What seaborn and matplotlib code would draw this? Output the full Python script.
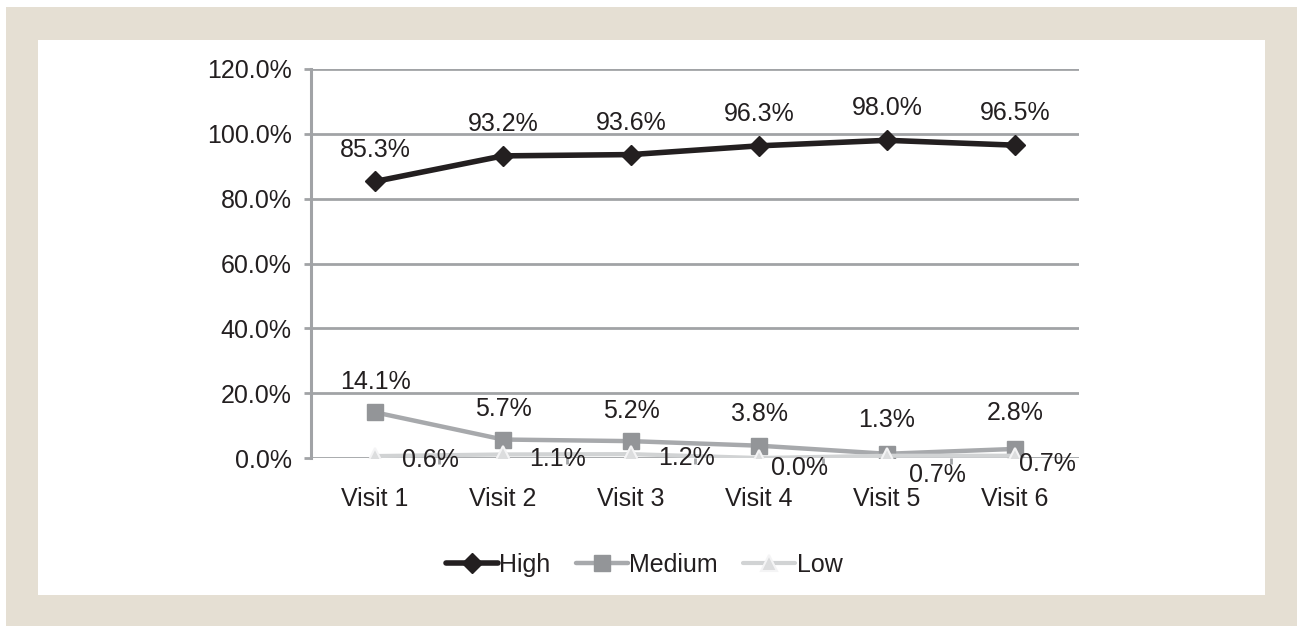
import matplotlib
matplotlib.use("Agg")
import matplotlib.pyplot as plt
from matplotlib.patches import Rectangle
from matplotlib.ticker import FixedLocator, PercentFormatter
import pandas as pd
import seaborn as sns

# Share of visits rated High / Medium / Low (percent)
visits = ["Visit 1", "Visit 2", "Visit 3", "Visit 4", "Visit 5", "Visit 6"]
high = [85.3, 93.2, 93.6, 96.3, 98.0, 96.5]
medium = [14.1, 5.7, 5.2, 3.8, 1.3, 2.8]
low = [0.6, 1.1, 1.2, 0.0, 0.7, 0.7]
series_names = ["High", "Medium", "Low"]
y_ticks = [0, 20, 40, 60, 80, 100, 120]

df = pd.concat(
    [pd.DataFrame({"visit": visits, "value": vals, "level": name})
     for name, vals in zip(series_names, [high, medium, low])],
    ignore_index=True,
)

sns.set_theme(style="white")
plt.rcParams["font.family"] = ["Liberation Sans", "DejaVu Sans"]

TEXT = "#231F20"
GRID = "#A1A3A6"
BEIGE = "#E5DFD3"
FS = 18

fig = plt.figure(figsize=(12.97, 6.26), dpi=100)
W, H = 1297, 626

# beige frame with white inner panel
fig.patches.append(Rectangle((6 / W, 0), 1 - 6 / W, 1 - 7 / H,
                             transform=fig.transFigure, facecolor=BEIGE,
                             edgecolor="none", zorder=-10))
fig.patches.append(Rectangle((38 / W, (H - 595) / H), (1265 - 38) / W, (595 - 40) / H,
                             transform=fig.transFigure, facecolor="white",
                             edgecolor="none", zorder=-9))

ax = fig.add_axes([311 / W, (H - 458) / H, (1079 - 311) / W, (458 - 69) / H])
ax.set_zorder(1)
ax.patch.set_alpha(0)

styles = {
    "High": dict(color="#231F20", lw=4.0, marker="D", ms=10.5, mfc="#231F20", mec="#231F20", mew=1),
    "Medium": dict(color="#A7A9AC", lw=3.2, marker="s", ms=12, mfc="#939598", mec="#939598", mew=1),
    "Low": dict(color="#D1D3D4", lw=3.0, marker="^", ms=12, mfc="#DCDDDE", mec="#F4F4F5", mew=1.5),
}

for name in series_names:
    st = styles[name]
    sub = df[df["level"] == name]
    sns.lineplot(data=sub, x="visit", y="value", ax=ax, color=st["color"],
                 linewidth=st["lw"], marker=st["marker"], markersize=st["ms"],
                 markerfacecolor=st["mfc"], markeredgecolor=st["mec"],
                 markeredgewidth=st["mew"], label=name, zorder=3, sort=False)

# value labels
for i, v in enumerate(high):
    ax.annotate(f"{v:.1f}%", (i, v), xytext=(0, 23), textcoords="offset points",
                ha="center", va="center", fontsize=FS, color=TEXT, zorder=5)
med_dy = [22, 22, 22, 23, 24, 26]
for i, v in enumerate(medium):
    ax.annotate(f"{v:.1f}%", (i, v), xytext=(0, med_dy[i]), textcoords="offset points",
                ha="center", va="center", fontsize=FS, color=TEXT, zorder=5)
low_off = [(40, -3), (39, -3), (40, -3), (29, -7), (36, -14), (23, -6)]
for i, v in enumerate(low):
    dx, dy = low_off[i]
    ax.annotate(f"{v:.1f}%", (i, v), xytext=(dx, dy), textcoords="offset points",
                ha="center", va="center", fontsize=FS, color=TEXT, zorder=5)

ax.set_xlim(-0.5, len(visits) - 0.5)
ax.set_ylim(0, 120)
ax.yaxis.set_major_locator(FixedLocator(y_ticks))
ax.yaxis.set_major_formatter(PercentFormatter(decimals=1))
ax.xaxis.set_minor_locator(FixedLocator([k + 0.5 for k in range(len(visits) - 1)]))

ax.grid(axis="y", color=GRID, linewidth=2.0, zorder=1)
ax.set_axisbelow(True)
for side in ["top", "right", "bottom"]:
    ax.spines[side].set_visible(False)
ax.spines["left"].set_color(GRID)
ax.spines["left"].set_linewidth(2.2)

ax.tick_params(axis="y", which="major", direction="out", length=5, width=2,
               color=GRID, labelsize=FS, labelcolor=TEXT, pad=9, left=True)
ax.tick_params(axis="x", which="major", length=0, labelsize=FS, labelcolor=TEXT, pad=21)
ax.tick_params(axis="x", which="minor", direction="out", length=4, width=2,
               color=GRID, bottom=True)
ax.set_xlabel("")
ax.set_ylabel("")

leg = ax.legend(loc="center", bbox_to_anchor=(644 / W, (H - 565) / H),
                bbox_transform=fig.transFigure, ncol=3, frameon=False,
                fontsize=FS, handlelength=2.1, handletextpad=0.05,
                columnspacing=1.0, labelcolor=TEXT)

fig.savefig("out.png", dpi=100)
